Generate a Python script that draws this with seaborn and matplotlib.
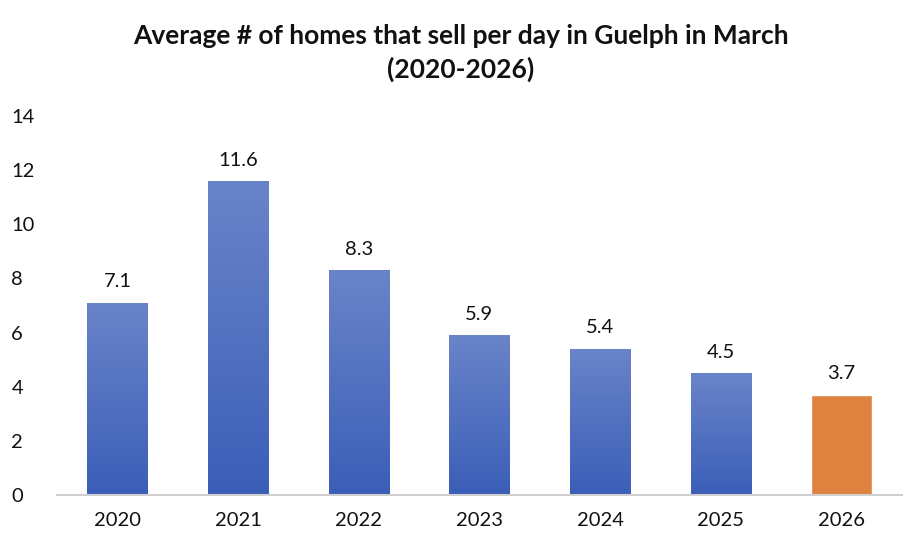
import numpy as np
import pandas as pd
import matplotlib
matplotlib.use("Agg")
import matplotlib.pyplot as plt
import seaborn as sns
from matplotlib.colors import LinearSegmentedColormap

years = ["2020", "2021", "2022", "2023", "2024", "2025", "2026"]
homes_per_day = [7.1, 11.6, 8.3, 5.9, 5.4, 4.5, 3.7]
title_text = "Average # of homes that sell per day in Guelph in March\n(2020-2026)"

sns.set_theme(style="white")
plt.rcParams['font.family'] = ['Lato', 'DejaVu Sans']

df = pd.DataFrame({"year": years, "value": homes_per_day})
colors = ["#5374c4"] * 6 + ["#e0823f"]

fig = plt.figure(figsize=(9.22, 5.54), dpi=100)
ax = fig.add_axes([0.062, 0.1065, 0.916, 0.684])
sns.barplot(data=df, x="year", y="value", hue="year", palette=colors,
            legend=False, width=0.5, ax=ax, saturation=1)

# gradient fill for the blue bars
cmap = LinearSegmentedColormap.from_list("g", ["#3b5eb7", "#6a84c9"])
grad = np.linspace(0, 1, 256).reshape(-1, 1)
for i, p in enumerate(ax.patches[:6]):
    x0, y0 = p.get_x(), p.get_y()
    w, h = p.get_width(), p.get_height()
    im = ax.imshow(grad, cmap=cmap, aspect="auto", origin="lower",
                   extent=[x0, x0 + w, y0, y0 + h], zorder=p.get_zorder() + 0.1)
    im.set_clip_path(p)
ax.set_xlim(-0.5, len(years) - 0.5)
ax.set_ylim(0, 14)
ax.set_yticks(range(0, 15, 2))

for i, v in enumerate(homes_per_day):
    ax.annotate(f"{v}", (i, v), xytext=(0, 9), textcoords="offset points",
                ha="center", va="bottom", fontsize=14.5, color="#111111")

for s in ["top", "right", "left"]:
    ax.spines[s].set_visible(False)
ax.spines["bottom"].set_color("#d0d0d0")
ax.spines["bottom"].set_linewidth(1.5)
ax.set_xlabel("")
ax.set_ylabel("")
ax.tick_params(axis="both", length=0, labelsize=14.5, colors="#111111")
ax.tick_params(axis="x", pad=12)
ax.tick_params(axis="y", pad=33)
for lab in ax.get_yticklabels():
    lab.set_horizontalalignment("left")

fig.suptitle(title_text, fontsize=19, fontweight="bold", y=0.957, color="#111111",
             linespacing=1.42)

fig.savefig("out.png", dpi=100, facecolor="white")
